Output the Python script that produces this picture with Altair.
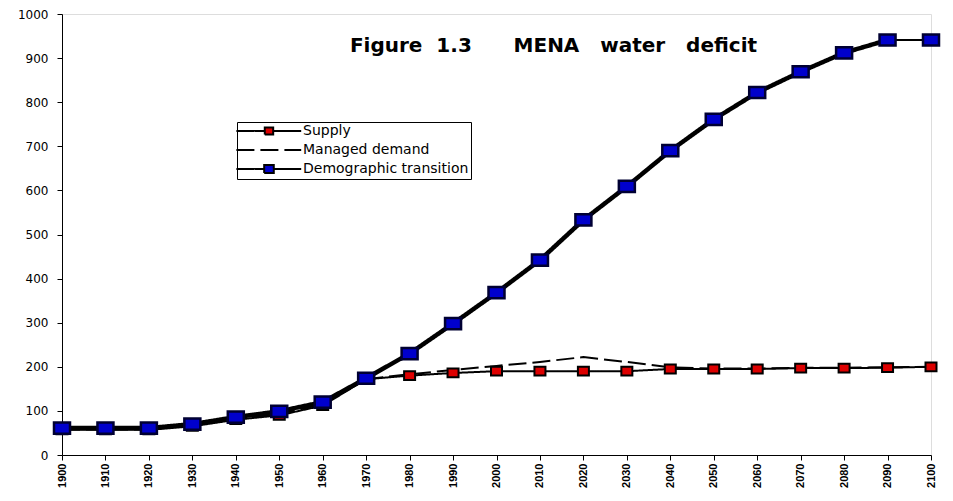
import altair as alt
import pandas as pd

years = [1900, 1910, 1920, 1930, 1940, 1950, 1960, 1970, 1980, 1990, 2000,
         2010, 2020, 2030, 2040, 2050, 2060, 2070, 2080, 2090, 2100]
supply = [57, 57, 57, 65, 80, 90, 112, 172, 180, 186, 190,
          190, 190, 190, 195, 195, 195, 197, 197, 198, 200]
managed_demand = [58, 58, 58, 68, 82, 93, 115, 172, 183, 193, 202,
                  211, 222, 211, 199, 196, 196, 198, 198, 199, 200]
demographic = [61, 61, 61, 70, 86, 99, 120, 174, 230, 298, 368,
               442, 533, 609, 690, 761, 822, 869, 912, 941, 941]
series_names = ["Supply", "Managed demand", "Demographic transition"]
y_ticks = [0, 100, 200, 300, 400, 500, 600, 700, 800, 900, 1000]

rows = []
for name, vals in zip(series_names, [supply, managed_demand, demographic]):
    for yr, v in zip(years, vals):
        rows.append({"year": yr, "value": v, "series": name})
df = pd.DataFrame(rows)

RED = "#DD0000"
BLUE = "#0000CC"

legend_shapes = [
    "M-1.6,0H3.13M4.53,0H9.2M3.13,-0.6H4.53V0.6H3.13Z",
    "M-1.6,0H9.2",
    "M-1.6,0H3.03M4.63,0H9.2M3.03,-0.65H4.63V0.65H3.03Z",
]

x_enc = alt.X("year:Q", scale=alt.Scale(domain=[1900, 2100], nice=False, zero=False),
              axis=alt.Axis(values=years, format="d", labelAngle=270, labelAlign="right",
                            labelBaseline="middle", labelFont="Liberation Sans",
                            labelFontWeight="bold", labelFontSize=11, labelColor="black",
                            labelPadding=3, tickSize=5, tickColor="black",
                            domainColor="black", grid=False, title=None,
                            labelOverlap=False))
y_enc = alt.Y("value:Q", scale=alt.Scale(domain=[0, 1000], nice=False),
              axis=alt.Axis(values=y_ticks, format="d", labelFont="DejaVu Sans",
                            labelFontSize=12, labelColor="black", labelPadding=9,
                            tickSize=5, tickColor="black", domainColor="black",
                            grid=False, title=None))


def make_legend():
    return alt.Legend(
        title=None, orient="none", legendX=175, legendY=108, padding=2,
        strokeColor="black", fillColor="white", labelFont="DejaVu Sans",
        labelFontSize=14, labelColor="black", labelLimit=300, symbolSize=144,
        symbolStrokeWidth=2, symbolStrokeColor="black", symbolOpacity=1,
        rowPadding=4, labelOffset=50, cornerRadius=0,
    )


dash_enc = alt.StrokeDash("series:N",
                          scale=alt.Scale(domain=series_names, range=[[1, 0], [18, 6], [1, 0]]),
                          legend=make_legend())
fill_enc = alt.Fill("series:N",
                    scale=alt.Scale(domain=series_names, range=[RED, "white", BLUE]),
                    legend=make_legend())
shape_enc = alt.Shape("series:N",
                      scale=alt.Scale(domain=series_names, range=legend_shapes),
                      legend=make_legend())
stroke_enc = alt.Stroke("series:N",
                        scale=alt.Scale(domain=series_names, range=["black", "black", "black"]),
                        legend=make_legend())

base = alt.Chart(df)

line_supply = base.transform_filter(alt.datum.series == "Supply").mark_line(
    color="black", strokeWidth=2).encode(x=x_enc, y=y_enc, strokeDash=dash_enc)
line_demand = base.transform_filter(alt.datum.series == "Managed demand").mark_line(
    color="black", strokeWidth=2).encode(x=x_enc, y=y_enc, strokeDash=dash_enc)
line_demo = base.transform_filter(
    (alt.datum.series == "Demographic transition") & (alt.datum.year <= 2090)).mark_line(
    color="black", strokeWidth=4.5).encode(x=x_enc, y=y_enc, strokeDash=dash_enc)
line_demo_end = base.transform_filter(
    (alt.datum.series == "Demographic transition") & (alt.datum.year >= 2090)).mark_line(
    color="black", strokeWidth=2).encode(x=x_enc, y=y_enc, strokeDash=dash_enc)

pts_supply = base.transform_filter(alt.datum.series == "Supply").mark_point(
    shape="M-1,-0.8H1V0.8H-1Z", filled=True, size=121, stroke="black",
    strokeWidth=2, opacity=1).encode(x=x_enc, y=y_enc, fill=fill_enc)
pts_demo = base.transform_filter(alt.datum.series == "Demographic transition").mark_point(
    shape="M-1,-0.7H1V0.7H-1Z", filled=True, size=256, stroke="#000033",
    strokeWidth=2.5, opacity=1).encode(x=x_enc, y=y_enc, fill=fill_enc)

dummy = base.transform_filter(alt.datum.year < 0).mark_point(
    filled=True, opacity=1, strokeWidth=2).encode(
    x=x_enc, y=y_enc, shape=shape_enc, stroke=stroke_enc)

title_text = ("Figure\u00a0\u00a01.3\u00a0\u00a0\u00a0\u00a0\u00a0\u00a0MENA"
              "\u00a0\u00a0\u00a0water\u00a0\u00a0\u00a0deficit")

chart = alt.layer(
    line_supply, line_demand, line_demo, line_demo_end, pts_supply, pts_demo, dummy
).properties(
    width=869, height=441,
    title=alt.TitleParams(title_text, font="DejaVu Sans", fontSize=20, fontWeight="bold",
                          color="black", anchor="middle", dx=57, offset=-64,
                          baseline="alphabetic"),
    padding={"left": 9, "top": 0, "right": 0, "bottom": 0},
).configure_view(stroke=None).configure(background="white")

chart.save("out.html", embed_options={"renderer": "svg", "actions": False})
